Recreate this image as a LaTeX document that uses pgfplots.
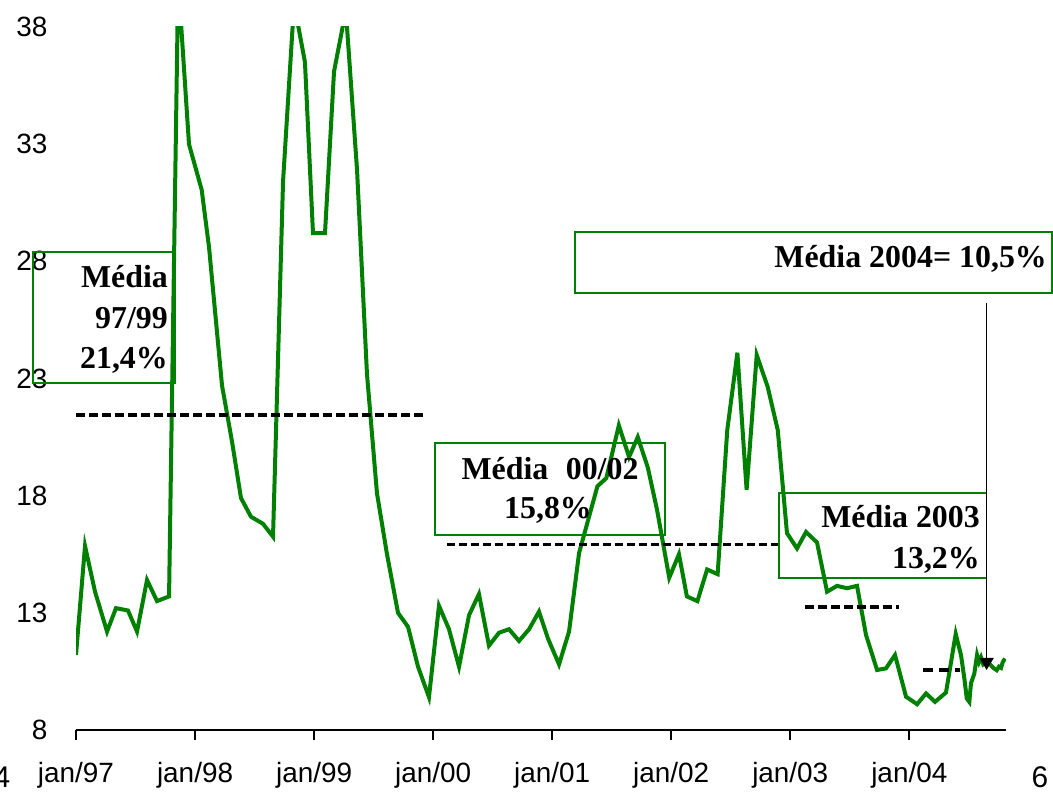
\documentclass[border=0pt]{standalone}
\usepackage{fontspec}
\setmainfont{Liberation Serif}
\newfontfamily\arial{Liberation Sans}
\usepackage{pgfplots}
\pgfplotsset{compat=1.18}
\usetikzlibrary{arrows.meta}
\definecolor{lgreen}{RGB}{0,128,0}

% taxa mensal (%), jan/97 = 0 meses
\pgfplotstableread{
m v
0 11.2
0.91 15.85
1.92 13.9
3.13 12.2
4.03 13.2
5.24 13.1
6.15 12.2
7.16 14.4
8.17 13.5
9.38 13.7
10.3 40.0
11.39 33.0
12.67 31.05
13.41 28.6
14.72 22.7
15.73 20.3
16.63 17.9
17.64 17.1
18.85 16.8
19.86 16.25
20.87 31.4
21.98 39.0
23.08 36.5
23.89 29.2
25.10 29.2
26.01 36.1
27.2 38.7
28.33 31.9
29.33 23.2
30.34 18.1
31.35 15.5
32.46 13.0
33.47 12.4
34.48 10.7
35.58 9.4
36.59 13.3
37.60 12.3
38.61 10.7
39.62 12.9
40.62 13.8
41.63 11.6
42.64 12.15
43.65 12.3
44.66 11.8
45.67 12.3
46.67 13.05
47.58 11.9
48.69 10.8
49.70 12.2
50.71 15.55
52.56 18.4
53.46 18.75
54.72 21.0
55.75 19.65
56.63 20.5
57.64 19.2
58.57 17.4
59.80 14.5
60.78 15.5
61.58 13.7
62.64 13.5
63.62 14.85
64.68 14.65
65.65 20.8
66.67 24.1
67.60 18.25
68.62 24.0
69.72 22.65
70.74 20.8
71.67 16.4
72.68 15.75
73.59 16.45
74.70 16.0
75.71 13.9
76.71 14.15
77.72 14.05
78.73 14.15
79.64 12.05
80.75 10.56
81.65 10.63
82.56 11.2
83.67 9.42
84.78 9.1
85.69 9.56
86.59 9.2
87.70 9.6
88.68 12.1
89.21 11.2
89.55 10.2
89.79 9.35
90.05 9.2
90.22 10.0
90.55 10.4
90.83 11.2
91.03 10.9
91.23 11.1
91.46 10.8
91.80 10.9
92.14 10.8
92.47 10.65
92.81 10.55
93.04 10.7
93.25 10.65
93.42 10.9
93.65 11.05
}\taxa

\begin{document}
\begin{tikzpicture}[x=1bp,y=1bp]
\useasboundingbox (0,0) rectangle (1053,793);
\begin{axis}[
    at={(76bp,63bp)}, anchor=south west,
    scale only axis,
    width=930bp, height=703bp,
    xmin=0, xmax=93.75,
    ymin=8, ymax=38,
    axis x line*=bottom, axis y line*=left,
    x axis line style={-, line width=2bp},
    y axis line style={draw=none},
    ytick={8,13,...,38},
    ytick style={draw=none},
    xtick={0,12,...,84},
    xticklabels={jan/97,jan/98,jan/99,jan/00,jan/01,jan/02,jan/03,jan/04},
    xtick style={line width=2bp, black},
    tick align=outside,
    major tick length=10bp,
    tick label style={font=\arial\fontsize{28}{32}\selectfont},
    yticklabel style={xshift=-15bp},
    xticklabel style={yshift=-19bp},
    /pgf/number format/assume math mode=true,
]
\addplot[lgreen, line width=4bp] table[x=m, y=v] {\taxa};
% medias
\addplot[black, line width=4bp, dash pattern=on 9bp off 4bp] coordinates {(0,21.45) (35.08,21.45)};
\addplot[black, line width=3bp, dash pattern=on 8bp off 4bp] coordinates {(37.4,15.9) (71.17,15.9)};
\addplot[black, line width=4bp, dash pattern=on 9bp off 4bp] coordinates {(73.49,13.24) (82.96,13.24)};
\addplot[black, line width=4bp, dash pattern=on 10bp off 6bp] coordinates {(85.38,10.57) (89.1,10.57)};
\end{axis}

\begin{scope}[lgreen, line width=1.5bp]
\draw (33,410) rectangle (175,541);
\draw (435,258) rectangle (665,350);
\draw (779,215) rectangle (986.5,300);
\draw (575,500) rectangle (1052,561);
\end{scope}

\begin{scope}[every node/.style={inner sep=0pt, font=\bfseries\fontsize{32}{36}\selectfont}]
\node[anchor=base east] at (168,505) {Média};
\node[anchor=base east] at (168,464) {97/99};
\node[anchor=base east] at (168,424) {21,4\%};
\node[anchor=base] at (550,313) {Média\hspace{0.55em}00/02};
\node[anchor=base] at (548,274) {15,8\%};
\node[anchor=base east] at (980,265) {Média 2003};
\node[anchor=base east] at (980,224) {13,2\%};
\node[anchor=base east] at (1047,525) {Média 2004= 10,5\%};
\end{scope}

\draw[black, line width=1.5bp, -{Triangle[length=12bp,width=14bp]}] (986.6,490) -- (986.6,123);

\node[font=\arial\fontsize{30}{34}\selectfont, inner sep=0pt] at (2,16) {4};
\node[font=\arial\fontsize{30}{34}\selectfont, inner sep=0pt] at (1040,16) {6};
\end{tikzpicture}
\end{document}
